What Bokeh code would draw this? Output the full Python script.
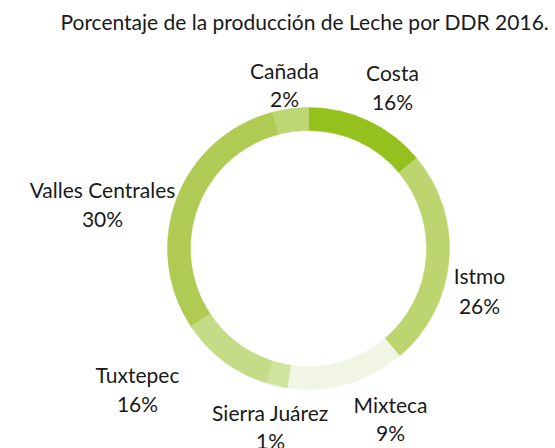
import numpy as np
from bokeh.plotting import figure
from bokeh.models import ColumnDataSource
from bokeh.core.properties import value
from bokeh.embed import file_html
from bokeh.resources import INLINE

# Data (clockwise from 12 o'clock)
regions = ["Costa", "Istmo", "Mixteca", "Sierra Juárez", "Tuxtepec", "Valles Centrales", "Cañada"]
arc_share = [13.9, 24.9, 13.6, 2.5, 10.8, 30.2, 4.1]   # slice sizes as drawn
label_pct = ["16%", "26%", "9%", "1%", "16%", "30%", "2%"]  # percentages as printed
colors = ["#95c11f", "#bcd56f", "#f1f6e4", "#d0e39f", "#c4db88", "#afcb53", "#bdd674"]

title = "Porcentaje  de la producción de Leche por DDR 2016."

W, H = 555, 448
FONT = "Lato"

p = figure(width=W, height=H, x_range=(0, W), y_range=(0, H),
           output_backend="svg", toolbar_location=None, min_border=0)
p.axis.visible = False
p.grid.visible = False
p.outline_line_color = None
p.background_fill_color = "white"
p.border_fill_color = "white"

vals = np.array(arc_share, dtype=float)
frac = vals / vals.sum()
cum_end = np.cumsum(frac)
cum_start = cum_end - frac
start_angle = np.pi / 2 - 2 * np.pi * cum_end
end_angle = np.pi / 2 - 2 * np.pi * cum_start

cx, cy = 308, H - 248
src = ColumnDataSource(dict(start=start_angle, end=end_angle, color=colors, name=regions))
p.annular_wedge(x=cx, y=cy, inner_radius=118, outer_radius=141,
                start_angle="start", end_angle="end", color="color",
                line_color="color", line_width=0.5, source=src)

# label layout (page pixels, top-left origin)
lab_x = [392, 479, 390, 270, 137, 102, 284]
lab_y = [72, 275, 404, 412, 374, 189, 70]
pct_dy = [29, 30, 28, 28, 29, 29, 28]
names_y = [H - y for y in lab_y]
pct_y = [H - y - d for y, d in zip(lab_y, pct_dy)]

lsrc = ColumnDataSource(dict(x=lab_x, y=names_y, y2=pct_y, name=regions, pct=label_pct))
p.text(x="x", y="y", text="name", source=lsrc, text_align="center", text_baseline="middle",
       text_font=value(FONT), text_font_size="21px", text_color="#1a1a1a")
p.text(x="x", y="y2", text="pct", source=lsrc, text_align="center", text_baseline="middle",
       text_font=value(FONT), text_font_size="21px", text_color="#1a1a1a")

p.text(x=[307], y=[H - 21], text=[title], text_align="center", text_baseline="middle",
       text_font=value(FONT), text_font_size="21px", text_color="#1a1a1a")

open("out.html", "w").write(file_html(p, INLINE))
